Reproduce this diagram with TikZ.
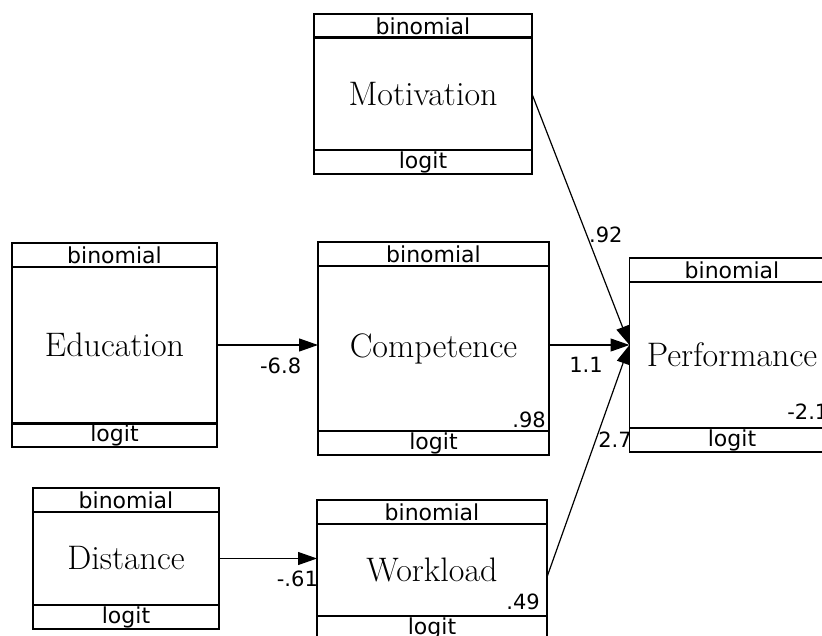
\documentclass[tikz,border=0pt]{standalone}
\usepackage{fontspec}
\newfontfamily\tagfont{DejaVu Sans}
\usetikzlibrary{arrows.meta,positioning}

\tikzset{
  var/.style={draw,line width=1.3pt,inner sep=0pt,outer sep=0pt,font=\fontsize{34}{40}\selectfont},
  strip/.style={draw,line width=1.3pt,inner sep=0pt,outer sep=0pt,minimum height=24pt,font=\tagfont\fontsize{22}{24}\selectfont},
  coef/.style={inner sep=0pt,font=\tagfont\fontsize{21}{24}\selectfont},
  link/.style={line width=1.2pt,-{Triangle[length=19pt,width=13pt]}}
}

\begin{document}
\begin{tikzpicture}[x=1pt,y=-1pt]
    \useasboundingbox (0,0) rectangle (822,636);
    \clip (0,0) rectangle (822,636);

    % name/x/y/width/height/label
    \foreach \n/\x/\y/\w/\h/\t in {mot/423/94/218/112/Motivation,
        edu/114.5/345/205/156/Education, comp/433.5/348.5/231/165/Competence,
        perf/732/355/205/146/Performance, dist/126/558.5/186/93/Distance,
        work/432/570/230/92/Workload} {
        \node[var,minimum width=\w pt,minimum height=\h pt] (\n) at (\x,\y) {\t};
        \node[strip,minimum width=\w pt,above=0pt of \n] (\n-hd) {binomial};
        \node[strip,minimum width=\w pt,below=0pt of \n] (\n-ft) {logit};
    }
    \draw[line width=3pt] (mot.north west) -- (mot.north east);
    \draw[line width=3pt] (edu.south west) -- (edu.south east);

    \node[coef,anchor=south east] (comp-c) at ([xshift=-3pt,yshift=3pt]comp.south east) {.98};
    \node[coef,anchor=south east] (work-c) at ([xshift=-7pt,yshift=6pt]work.south east) {.49};
    \node[coef,anchor=south east] (perf-c) at ([xshift=-6pt,yshift=8pt]perf.south east) {-2.1};

    \coordinate (perf-in) at ([yshift=10pt]perf.west);
    \draw[link] (edu.east) -- node[coef,pos=.63,below=12pt] (l-edu) {-6.8} (edu.east -| comp.west);
    \draw[link] (dist.east) -- node[coef,pos=.8,below=12pt] (l-dist) {-.61} (dist.east -| work.west);
    \draw[link] (mot.east) -- node[coef,pos=.56,right=2pt] (l-mot) {.92} (perf-in);
    \draw[link] (comp.east |- perf-in) -- node[coef,pos=.46,below=12pt] (l-comp) {1.1} (perf-in);
    \draw[link] ([yshift=-7pt]work.east) -- node[coef,pos=.59,right=2pt] (l-work) {2.7} (perf-in);
\end{tikzpicture}
\end{document}
